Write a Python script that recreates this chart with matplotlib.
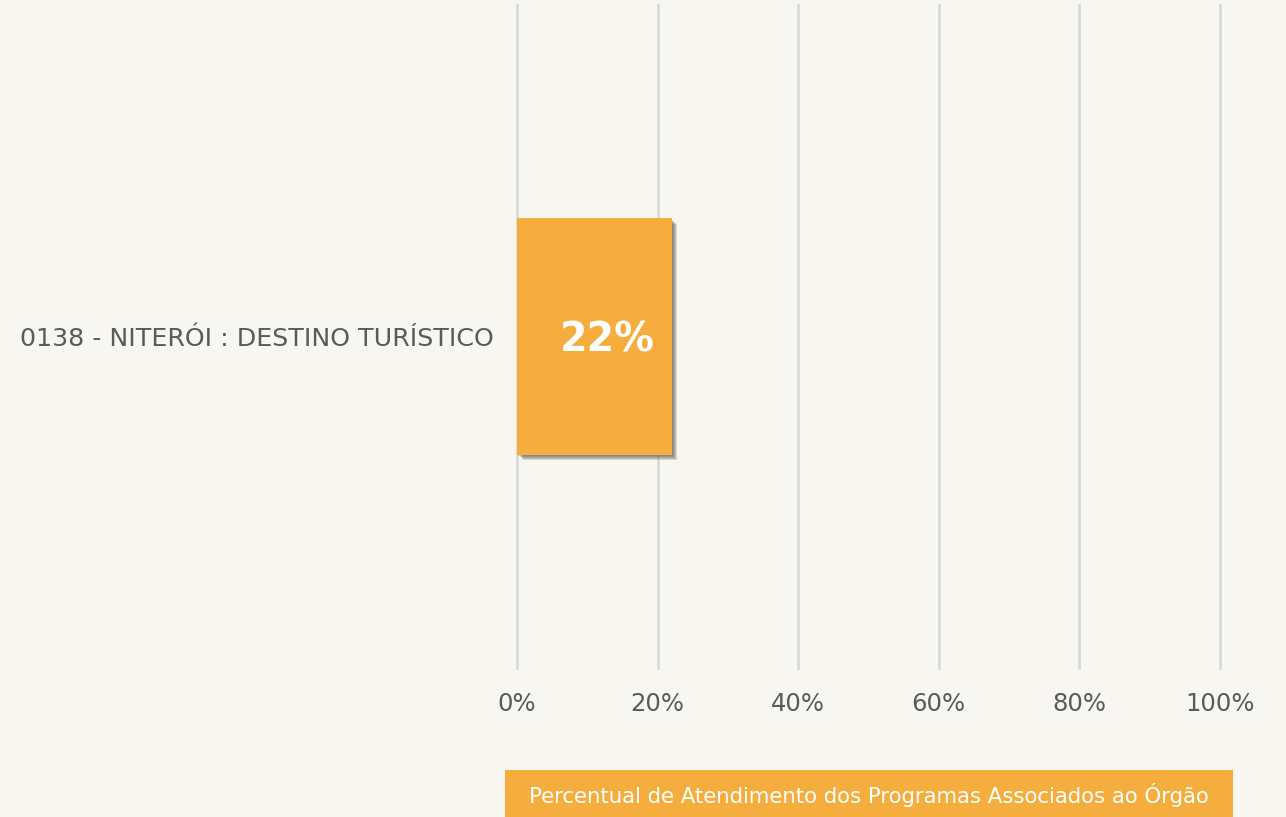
import matplotlib.pyplot as plt
import matplotlib.patheffects as pe
from matplotlib.patches import Rectangle

# data
programas = ["0138 - NITERÓI : DESTINO TURÍSTICO"]
percentuais = [22]
xticks = [0, 20, 40, 60, 80, 100]
legenda = "Percentual de Atendimento dos Programas Associados ao Órgão"

bg = "#f7f6f0"
laranja = "#f5ad3d"
cinza_txt = "#5a5a5a"

plt.rcParams['font.family'] = ['DejaVu Sans']

fig = plt.figure(figsize=(12.86, 8.17), dpi=100, facecolor=bg)
ax = fig.add_axes([517/1286, 1 - 668/817, 703/1286, 663/817])
ax.set_facecolor(bg)

# barras com sombra borrada
sombra = [pe.SimplePatchShadow(offset=(d, -d), shadow_rgbFace="#55554d", alpha=0.2)
          for d in (1, 1.8, 2.6, 3.4, 4.2)]
bars = ax.barh(range(len(programas)), percentuais, height=0.356, color=laranja, zorder=3)
for b in bars:
    b.set_path_effects(sombra + [pe.Normal()])

for i, v in enumerate(percentuais):
    ax.text(v - 2.4, i, f"{v}%", ha="right", va="center_baseline", color="white",
            fontsize=28.5, fontweight="bold", zorder=4)

ax.set_xlim(0, 100)
ax.set_ylim(-0.5, 0.5)
ax.set_xticks(xticks)
ax.set_xticklabels([f"{t}%" for t in xticks])
ax.set_yticks(range(len(programas)))
ax.set_yticklabels(programas)
ax.tick_params(axis="x", length=0, pad=17, labelsize=17.5, labelcolor=cinza_txt)
ax.tick_params(axis="y", length=0, pad=17, labelsize=18.2, labelcolor=cinza_txt)
ax.grid(axis="x", color="#d9d9d9", linewidth=2, zorder=0)
for g in ax.get_xgridlines():
    g.set_clip_on(False)
for s in ax.spines.values():
    s.set_visible(False)

# legenda
fig.add_artist(Rectangle((505/1286, 0), 728/1286, 47/817, transform=fig.transFigure,
                         facecolor=laranja, edgecolor="none"))
fig.text((505 + 728/2)/1286, 1 - 795/817, legenda, ha="center", va="center",
         color="white", fontsize=15.3)

fig.savefig("out.png", dpi=100, facecolor=bg)
